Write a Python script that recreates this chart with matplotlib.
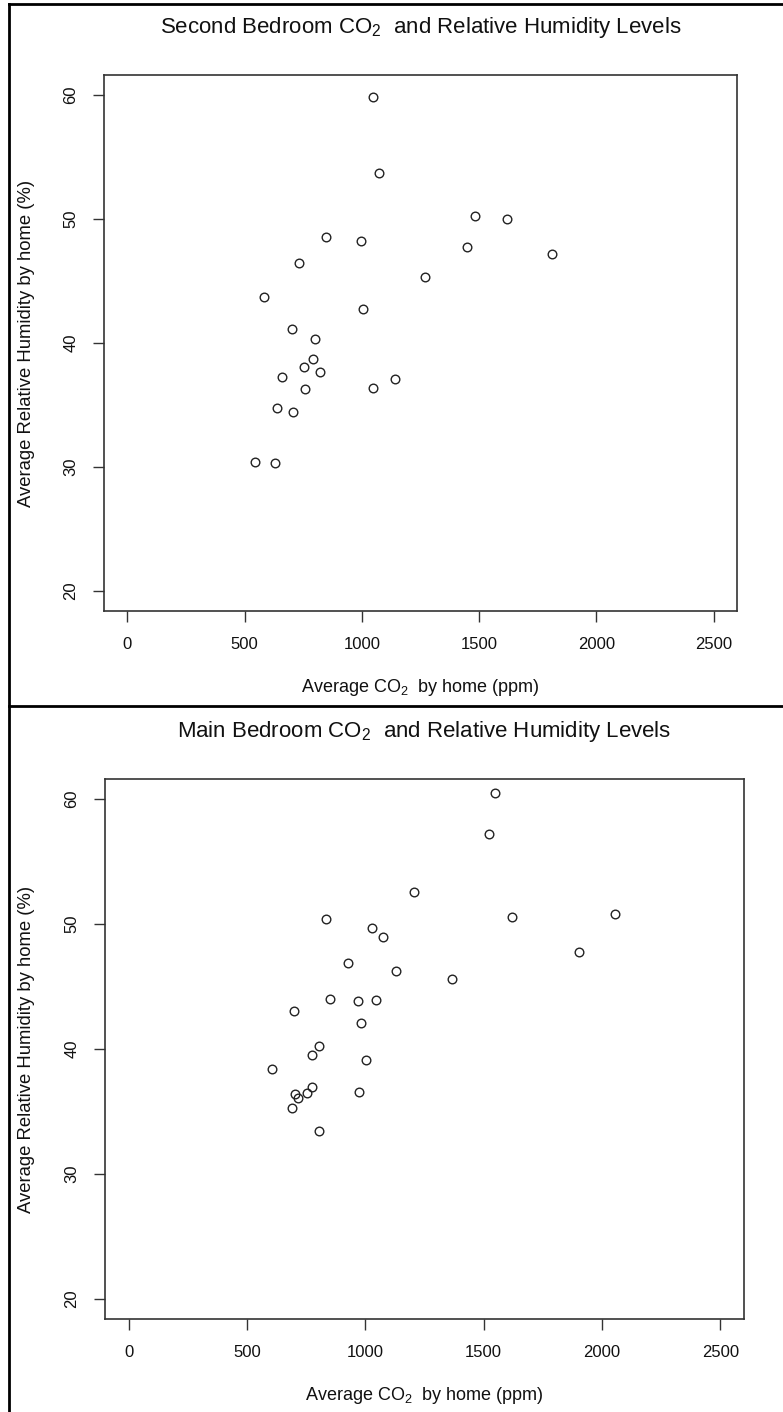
import matplotlib
matplotlib.use("Agg")
import matplotlib.pyplot as plt
from matplotlib.lines import Line2D

plt.rcParams['font.family'] = ['Liberation Sans', 'DejaVu Sans']
plt.rcParams['mathtext.fontset'] = 'custom'
plt.rcParams['mathtext.rm'] = 'Liberation Sans'
plt.rcParams['mathtext.default'] = 'regular'

# Second bedroom: average CO2 (ppm) and relative humidity (%) per home
second_co2 = [1047, 1071, 1483, 1620, 1447, 1813, 848, 995, 731, 1268,
              583, 1005, 700, 802, 791, 751, 822, 660, 1142, 1047,
              757, 640, 705, 543, 628]
second_rh = [59.79, 53.71, 50.24, 49.98, 47.74, 47.15, 48.52, 48.23, 46.48, 45.32,
             43.71, 42.74, 41.10, 40.32, 38.69, 38.04, 37.64, 37.26, 37.07, 36.40,
             36.29, 34.76, 34.44, 30.44, 30.32]

# Main bedroom: average CO2 (ppm) and relative humidity (%) per home
main_co2 = [1207, 832, 1029, 1074, 926, 1131, 1365, 850, 967, 1043,
            698, 983, 805, 774, 1003, 607, 774, 701, 717, 755,
            973, 689, 805, 1549, 1522, 1621, 2057, 1904]
main_rh = [52.58, 50.37, 49.71, 48.94, 46.90, 46.24, 45.57, 44.03, 43.84, 43.92,
           43.02, 42.08, 40.26, 39.49, 39.09, 38.43, 36.96, 36.43, 36.11, 36.48,
           36.58, 35.26, 33.42, 60.48, 57.20, 50.58, 50.77, 47.78]

x_ticks = [0, 500, 1000, 1500, 2000, 2500]
y_ticks = [20, 30, 40, 50, 60]

W, H = 783, 1412
fig = plt.figure(figsize=(W / 100, H / 100), dpi=100)


def px_rect(left, top, right, bottom):
    return [left / W, 1 - bottom / H, (right - left) / W, (bottom - top) / H]


def scatter_panel(rect, co2, rh, title, title_y, xlabel_y):
    ax = fig.add_axes(px_rect(*rect))
    ax.plot(co2, rh, linestyle='none', marker='o', markersize=6.2,
            markerfacecolor='none', markeredgecolor='#222222', markeredgewidth=1.0)
    ax.set_xlim(-100, 2600)
    ax.set_ylim(18.4, 61.6)
    ax.set_xticks(x_ticks)
    ax.set_yticks(y_ticks)
    ax.set_xticklabels([str(t) for t in x_ticks])
    ax.set_yticklabels([str(t) for t in y_ticks], rotation=90, va='center')
    ax.tick_params(direction='out', length=8, width=1.0, color='#333333',
                   labelsize=12, pad=10.5, labelcolor='#111111')
    for s in ax.spines.values():
        s.set_color('#333333')
        s.set_linewidth(1.2)
    left, top, right, bottom = rect
    cx = (left + right) / 2 / W
    cy = 1 - (top + bottom) / 2 / H
    fig.text(cx, 1 - title_y / H, title, ha='center', va='center',
             fontsize=16, color='#111111')
    fig.text(cx, 1 - xlabel_y / H, 'Average CO$_2$  by home (ppm)',
             ha='center', va='center', fontsize=13, color='#111111')
    fig.text(27 / W, cy, 'Average Relative Humidity by home (%)',
             ha='center', va='center', rotation=90, fontsize=13.3, color='#111111')
    return ax


scatter_panel((104, 75, 737, 611), second_co2, second_rh,
              'Second Bedroom CO$_2$  and Relative Humidity Levels', 27, 688)
scatter_panel((105, 779, 744, 1319), main_co2, main_rh,
              'Main Bedroom CO$_2$  and Relative Humidity Levels', 731, 1396)

# Cell borders around the two panels
border = dict(color='black', linewidth=2.0, transform=fig.transFigure)
fig.add_artist(Line2D([9 / W, 9 / W], [0, 1 - 4 / H], **border))
fig.add_artist(Line2D([9 / W, 1], [1 - 4 / H, 1 - 4 / H], **border))
fig.add_artist(Line2D([9 / W, 1], [1 - 706 / H, 1 - 706 / H], **border))

fig.savefig('out.png', dpi=100, facecolor='white')
